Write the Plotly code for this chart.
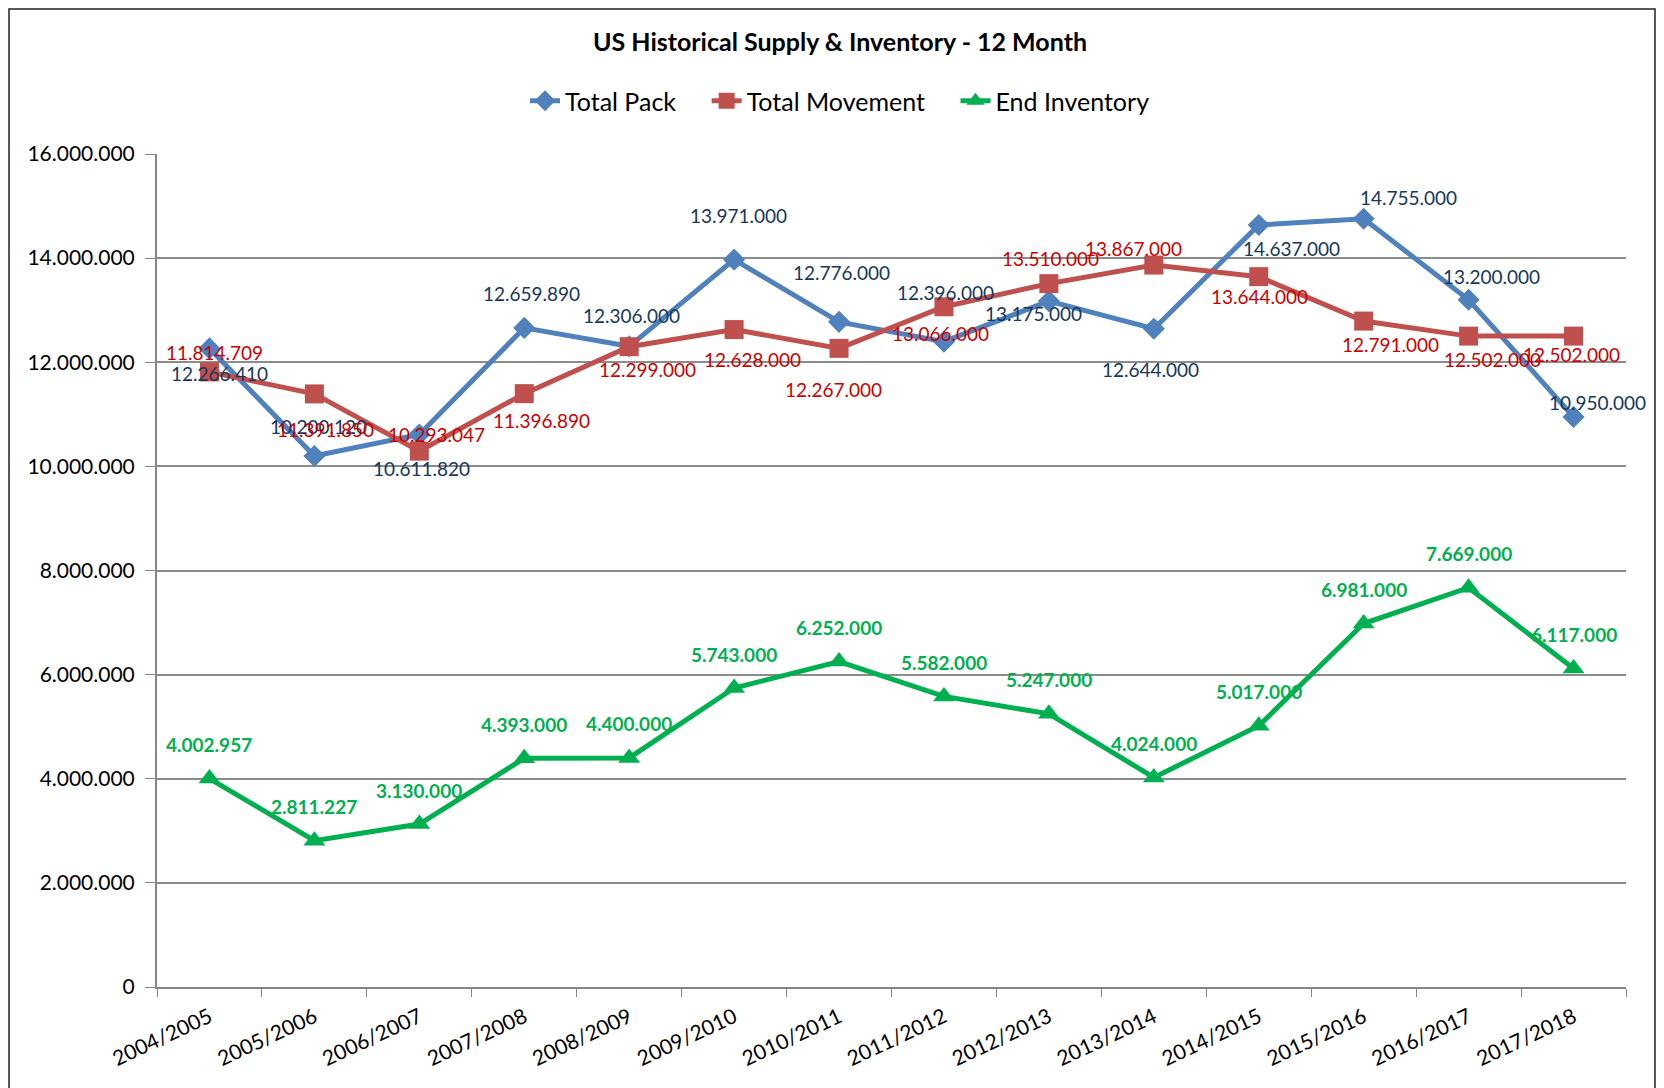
import plotly.graph_objects as go

seasons = ["2004/2005", "2005/2006", "2006/2007", "2007/2008", "2008/2009", "2009/2010",
           "2010/2011", "2011/2012", "2012/2013", "2013/2014", "2014/2015", "2015/2016",
           "2016/2017", "2017/2018"]
total_pack = [12266410, 10200120, 10611820, 12659890, 12306000, 13971000, 12776000,
              12396000, 13175000, 12644000, 14637000, 14755000, 13200000, 10950000]
total_movement = [11814709, 11391850, 10293047, 11396890, 12299000, 12628000, 12267000,
                  13066000, 13510000, 13867000, 13644000, 12791000, 12502000, 12502000]
end_inventory = [4002957, 2811227, 3130000, 4393000, 4400000, 5743000, 6252000,
                 5582000, 5247000, 4024000, 5017000, 6981000, 7669000, 6117000]

# label offsets from each point, in px (dx right, dy down) - like the excel layout
pack_off = [(10, 25), (4, -29), (2, 34), (7, -34), (2, -31), (4, -44), (2, -49),
            (2, -49), (-15, 12), (-3, 41), (33, 24), (45, -21), (23, -23), (24, -14)]
move_off = [(5, -19), (11, 36), (17, -17), (17, 27), (18, 23), (18, 30), (-6, 41),
            (-3, 27), (2, -25), (-20, -17), (1, 20), (27, 23), (24, 23), (-2, 18)]
inv_off = [(0, -34)] * 14

FONT = "Lato"
W, H = 1664, 1088
PAGE = 8  # body margin of the html page
L, R, T, B = 157 - PAGE, 38 + PAGE, 154 - PAGE, 101 + PAGE
GAP = "&nbsp;" * 4


def fmt(v):
    return f"{v:,}".replace(",", ".")


def main():
    fig = go.Figure()
    series = [
        ("Total Pack", total_pack, "#4F81BD", "diamond", 17, pack_off, "#17375E", False),
        ("Total Movement", total_movement, "#C0504D", "square", 19, move_off, "#CC0000", False),
        ("End Inventory", end_inventory, "#00B050", "triangle-up", 19, inv_off, "#00B050", True),
    ]
    for i, (name, vals, col, sym, msize, offs, tcol, bold) in enumerate(series):
        fig.add_trace(go.Scatter(
            x=seasons, y=vals, name=name + (GAP if i < 2 else ""), mode="lines+markers",
            line=dict(color=col, width=5),
            marker=dict(symbol=sym, size=msize, color=col),
        ))
        for s, v, (dx, dy) in zip(seasons, vals, offs):
            txt = fmt(v)
            fig.add_annotation(
                x=s, y=v, text=f"<b>{txt}</b>" if bold else txt, showarrow=False,
                xshift=dx, yshift=-dy, font=dict(color=tcol, size=19, family=FONT),
            )

    pw, ph = W - L - R, H - T - B
    # chart frame
    fig.add_shape(type="rect", xref="paper", yref="paper", layer="below",
                  x0=(1 - L) / pw, x1=(1647 - L) / pw,
                  y0=(H - B - 1100) / ph, y1=(H - B - 1) / ph,
                  fillcolor="white", line=dict(color="#222222", width=1.5))

    fig.update_layout(
        width=W, height=H,
        margin=dict(l=L, r=R, t=T, b=B),
        paper_bgcolor="#fbf3f1", plot_bgcolor="white",
        separators=",.",
        font=dict(family=FONT, size=21, color="black"),
        title=dict(text="<b>US Historical Supply & Inventory - 12 Month</b>",
                   x=0.5, xref="container", xanchor="center",
                   y=1 - 34 / H, yref="container", yanchor="middle",
                   font=dict(size=25, family=FONT)),
        legend=dict(orientation="h", x=0.5, xref="container", xanchor="center",
                    y=1 - 93 / H, yref="container", yanchor="middle",
                    font=dict(size=25, family=FONT), bgcolor="rgba(0,0,0,0)",
                    tracegroupgap=0),
        showlegend=True,
    )
    fig.update_xaxes(
        type="category", range=[-0.5, len(seasons) - 0.5], tickangle=-25,
        tickson="boundaries", ticks="outside", ticklen=8, tickcolor="#868686",
        ticklabelstandoff=8,
        showline=True, linecolor="#868686", linewidth=2,
        showgrid=False, tickfont=dict(size=21, color="black"),
    )
    fig.update_yaxes(
        range=[0, 16000000], dtick=2000000, tickformat=",d",
        ticks="outside", ticklen=10, tickcolor="#868686", ticklabelstandoff=6,
        showline=True, linecolor="#868686", linewidth=2,
        showgrid=True, gridcolor="#8c8c8c", gridwidth=1.5,
        zeroline=False, tickfont=dict(size=21, color="black"),
    )
    fig.write_html("out.html")


if __name__ == "__main__":
    main()
